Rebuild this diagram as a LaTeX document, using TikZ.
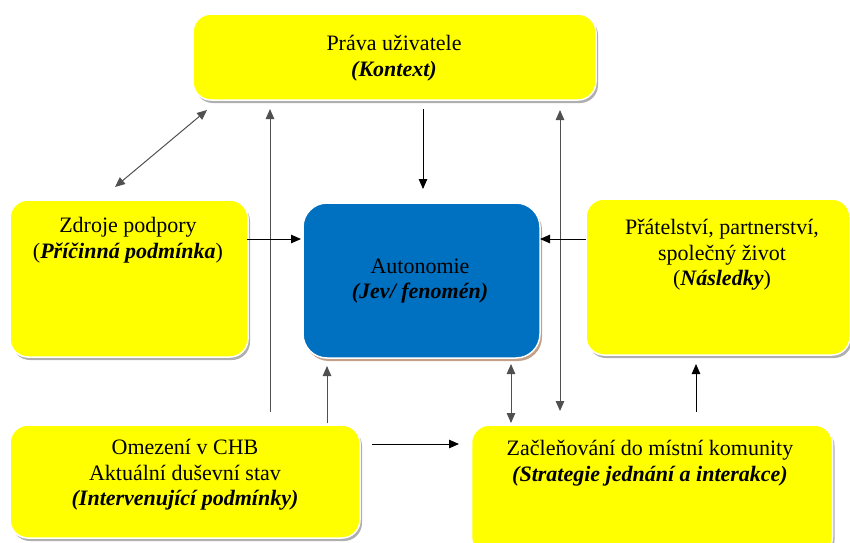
\documentclass[tikz,border=0pt]{standalone}
\usepackage{fontspec}
\setmainfont{Liberation Serif}
\usetikzlibrary{shadows,arrows.meta}
\definecolor{yfill}{RGB}{255,255,0}
\definecolor{bfill}{RGB}{0,112,192}
\definecolor{tanshadow}{RGB}{196,160,135}
\definecolor{lgray}{RGB}{80,80,80}
\begin{document}
\begin{tikzpicture}[x=1pt,y=-1pt,
  boxbase/.style={rectangle, rounded corners=18pt, draw=white, line width=1.5pt, inner sep=0pt},
  yellowbox/.style={boxbase, fill=yfill, drop shadow={shadow xshift=2pt, shadow yshift=-3pt, fill=black!35, opacity=0.9}},
  bluebox/.style={boxbase, rounded corners=24pt, fill=bfill, drop shadow={shadow xshift=2pt, shadow yshift=-3pt, fill=tanshadow, opacity=1}},
  lbl/.style={align=center, inner sep=0pt, font=\fontsize{22}{25.5}\selectfont},
  conn/.style={line width=1pt, black},
  connG/.style={line width=1pt, lgray},
  tip/.tip={Triangle[length=10pt,width=8.5pt]},
]
\useasboundingbox (0,0) rectangle (850,542);
% boxes
\node[yellowbox, minimum width=403pt, minimum height=86pt] (prava) at (394.5,57) {};
\node[yellowbox, minimum width=238pt, minimum height=157pt] (zdroje) at (129,278.5) {};
\node[bluebox, minimum width=237pt, minimum height=155pt] (auto) at (421.5,280.5) {};
\node[yellowbox, minimum width=264pt, minimum height=156pt] (prat) at (718,277) {};
\node[yellowbox, minimum width=350pt, minimum height=113pt] (omez) at (185,481.5) {};
\node[yellowbox, minimum width=361pt, minimum height=130pt] (zac) at (652,490) {};
% labels
\node[lbl] (pravaT) at (394,58) {Práva uživatele\\\textbf{\textit{(Kontext)}}};
\node[lbl] (zdrojeT) at (128,240) {Zdroje podpory\\(\textbf{\textit{Příčinná podmínka}})};
\node[lbl] (autoT) at (420,281) {Autonomie\\\textbf{\textit{(Jev/ fenomén)}}};
\node[lbl] (pratT) at (722,255) {Přátelství, partnerství,\\společný život\\(\textbf{\textit{Následky}})};
\node[lbl] (omezT) at (185,475) {Omezení v CHB\\Aktuální duševní stav\\\textbf{\textit{(Intervenující podmínky)}}};
\node[lbl] (zacT) at (650,463) {Začleňování do místní komunity\\\textbf{\textit{(Strategie jednání a interakce)}}};
% connector end points
\coordinate (d1) at (115,187);
\coordinate (d2) at (207,110);
\coordinate (v1b) at (270,412);
\coordinate (v1t) at (270,109);
\coordinate (v2t) at (423,109);
\coordinate (v2b) at (423,189);
\coordinate (v3t) at (560,110);
\coordinate (v3b) at (560,411);
\coordinate (h1a) at (247,239);
\coordinate (h1b) at (301,239);
\coordinate (h2a) at (586,239);
\coordinate (h2b) at (540,239);
\coordinate (v4b) at (327,423);
\coordinate (v4t) at (327,366);
\coordinate (v5t) at (511,364);
\coordinate (v5b) at (511,423);
\coordinate (v6b) at (696,412);
\coordinate (v6t) at (696,364);
\coordinate (h3a) at (372,444);
\coordinate (h3b) at (459,444);
% connectors
\draw[connG, tip-tip] (d1) -- (d2);
\draw[connG, -tip] (v1b) -- (v1t);
\draw[conn, -tip] (v2t) -- (v2b);
\draw[connG, tip-tip] (v3t) -- (v3b);
\draw[conn, -tip] (h1a) -- (h1b);
\draw[conn, -tip] (h2a) -- (h2b);
\draw[connG, -tip] (v4b) -- (v4t);
\draw[connG, tip-tip] (v5t) -- (v5b);
\draw[conn, -tip] (v6b) -- (v6t);
\draw[conn, -tip] (h3a) -- (h3b);
\end{tikzpicture}
\end{document}
